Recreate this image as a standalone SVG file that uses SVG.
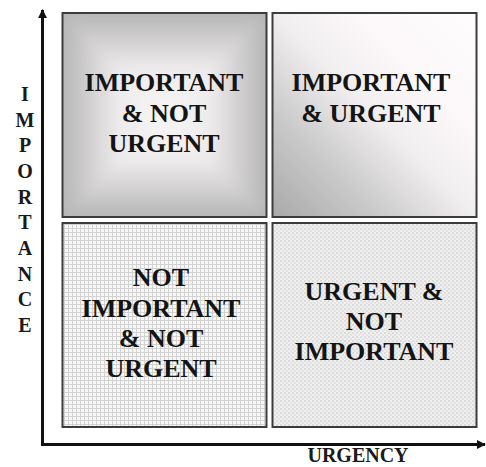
<svg xmlns="http://www.w3.org/2000/svg" width="486" height="467" viewBox="0 0 486 467">
  <style>
    .quad { stroke: #3c3c3c; stroke-width: 2; }
    .label { font-family: "Liberation Serif", "Times New Roman", serif; font-weight: bold; font-size: 26px; fill: #141414; text-anchor: middle; }
    .axis-label { font-family: "Liberation Serif", "Times New Roman", serif; font-weight: bold; font-size: 20px; fill: #1a1a1a; text-anchor: middle; }
    .axis { stroke: #111; stroke-width: 3; fill: none; }
  </style>
  <defs>
    <!-- bevelled facets for the upper-left cell: grey rim fading to a light centre -->
    <linearGradient id="facetTop" x1="0" y1="0" x2="0" y2="1">
      <stop offset="0" stop-color="#b6b6b6"/>
      <stop offset="0.25" stop-color="#d0cecf"/>
      <stop offset="0.55" stop-color="#edebec"/>
      <stop offset="1" stop-color="#f8f6f7"/>
    </linearGradient>
    <linearGradient id="facetBottom" href="#facetTop" x1="0" y1="1" x2="0" y2="0"/>
    <linearGradient id="facetLeft" href="#facetTop" x1="0" y1="0" x2="1" y2="0"/>
    <linearGradient id="facetRight" href="#facetTop" x1="1" y1="0" x2="0" y2="0"/>
    <filter id="soften" x="-10%" y="-10%" width="120%" height="120%">
      <feGaussianBlur stdDeviation="5"/>
    </filter>
    <clipPath id="ulClip">
      <rect x="62.5" y="13" width="204" height="204"/>
    </clipPath>
    <!-- diagonal sweep for the upper-right cell -->
    <linearGradient id="sweep" x1="0" y1="1" x2="1" y2="0">
      <stop offset="0" stop-color="#a9a9a9"/>
      <stop offset="0.25" stop-color="#c8c8c8"/>
      <stop offset="0.5" stop-color="#f1eef0"/>
      <stop offset="0.7" stop-color="#fcf8fa"/>
      <stop offset="1" stop-color="#fefcfd"/>
    </linearGradient>
    <!-- graph-paper texture -->
    <pattern id="grid" width="4" height="4" patternUnits="userSpaceOnUse">
      <rect width="4" height="4" fill="#f8f8f8"/>
      <path d="M0 0.5 H4 M0.5 0 V4" stroke="#d2d2d2" stroke-width="1"/>
    </pattern>
    <!-- fine woven texture -->
    <pattern id="weave" width="4" height="4" patternUnits="userSpaceOnUse">
      <rect width="4" height="4" fill="#f0f0f0"/>
      <rect x="0" y="0" width="2" height="2" fill="#dcdcdc"/>
      <rect x="2" y="2" width="2" height="2" fill="#e2e2e2"/>
    </pattern>
    <marker id="arrow" viewBox="0 0 10 10" refX="9" refY="5" markerWidth="9" markerHeight="9" markerUnits="userSpaceOnUse" orient="auto">
      <path d="M0 0 L10 5 L0 10 z" fill="#111"/>
    </marker>
  </defs>

  <!-- axes -->
  <g id="connectors">
    <path class="axis" d="M42.5 444.5 V10" marker-end="url(#arrow)"/>
    <path class="axis" d="M41 444.5 H485" marker-end="url(#arrow)"/>
  </g>

  <g id="importance-label">
    <text class="axis-label" x="25" y="101">I</text>
    <text class="axis-label" x="25" y="127">M</text>
    <text class="axis-label" x="25" y="152">P</text>
    <text class="axis-label" x="25" y="178">O</text>
    <text class="axis-label" x="25" y="204">R</text>
    <text class="axis-label" x="25" y="229">T</text>
    <text class="axis-label" x="25" y="255">A</text>
    <text class="axis-label" x="25" y="281">N</text>
    <text class="axis-label" x="25" y="306">C</text>
    <text class="axis-label" x="25" y="332">E</text>
  </g>

  <g id="urgency-label">
    <text class="axis-label" x="358" y="462">URGENCY</text>
  </g>

  <!-- upper-left: bevelled box -->
  <g id="important-not-urgent">
    <g clip-path="url(#ulClip)">
      <rect x="62.5" y="13" width="204" height="204" fill="#b6b6b6"/>
      <g filter="url(#soften)">
        <polygon points="62.5,13 266.5,13 164.5,115" fill="url(#facetTop)"/>
        <polygon points="62.5,217 266.5,217 164.5,115" fill="url(#facetBottom)"/>
        <polygon points="62.5,13 62.5,217 164.5,115" fill="url(#facetLeft)"/>
        <polygon points="266.5,13 266.5,217 164.5,115" fill="url(#facetRight)"/>
      </g>
    </g>
    <rect class="quad" x="62.5" y="13" width="204" height="204" fill="none"/>
    <text class="label" x="164" y="91">IMPORTANT</text>
    <text class="label" x="164" y="122">&amp; NOT</text>
    <text class="label" x="164" y="152">URGENT</text>
  </g>

  <!-- upper-right -->
  <g id="important-urgent">
    <rect class="quad" x="272.5" y="13" width="204" height="204" fill="url(#sweep)"/>
    <text class="label" x="371" y="91">IMPORTANT</text>
    <text class="label" x="371" y="122">&amp; URGENT</text>
  </g>

  <!-- lower-left -->
  <g id="not-important-not-urgent">
    <rect class="quad" x="62.5" y="223" width="204" height="204" fill="url(#grid)"/>
    <text class="label" x="161" y="286">NOT</text>
    <text class="label" x="161" y="317">IMPORTANT</text>
    <text class="label" x="161" y="347">&amp; NOT</text>
    <text class="label" x="161" y="377">URGENT</text>
  </g>

  <!-- lower-right -->
  <g id="urgent-not-important">
    <rect class="quad" x="272.5" y="223" width="204" height="204" fill="url(#weave)"/>
    <text class="label" x="374" y="300">URGENT &amp;</text>
    <text class="label" x="374" y="330">NOT</text>
    <text class="label" x="374" y="360">IMPORTANT</text>
  </g>
</svg>
